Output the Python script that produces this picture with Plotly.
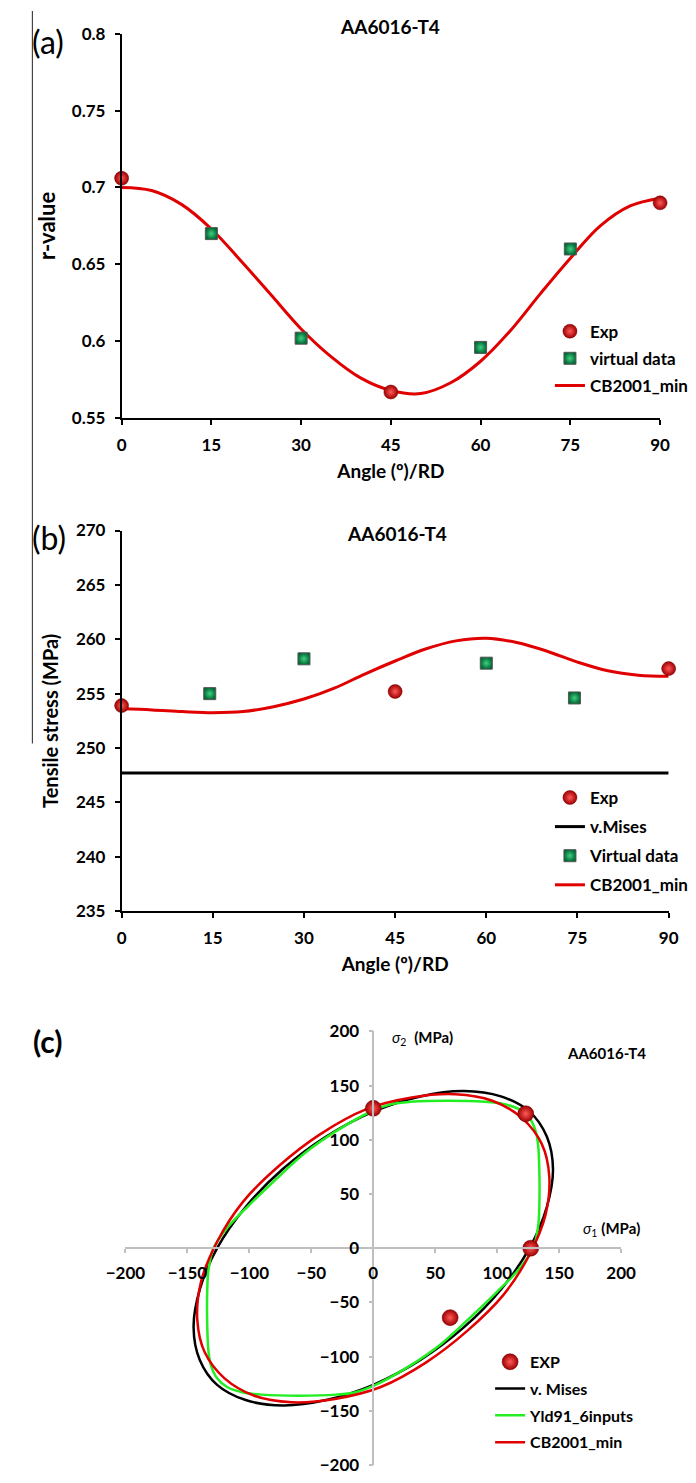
import plotly.graph_objects as go

W, H = 696, 1483
FONT = "Lato"

# ---------------- Panel (a): r-value ----------------
ang_exp_a = [0, 45, 90]
r_exp = [0.706, 0.567, 0.690]
ang_virt_a = [15, 30, 60, 75]
r_virt = [0.670, 0.602, 0.596, 0.660]
ang_curve = [0, 5, 10, 15, 20, 25, 30, 35, 40, 45, 50, 55, 60, 65, 70, 75, 80, 85, 90]
r_cb2001 = [0.700, 0.698, 0.689, 0.673, 0.652, 0.630, 0.608, 0.590, 0.576, 0.568,
            0.566, 0.573, 0.587, 0.607, 0.631, 0.654, 0.675, 0.688, 0.693]

# ---------------- Panel (b): tensile stress ----------------
ang_exp_b = [0, 45, 90]
s_exp = [253.9, 255.2, 257.3]
ang_virt_b = [14.5, 30, 60, 74.5]
s_virt = [255.0, 258.2, 257.8, 254.6]
s_cb2001 = [253.6, 253.5, 253.35, 253.25, 253.35, 253.8, 254.5, 255.5, 256.8, 258.0,
            259.1, 259.85, 260.1, 259.7, 258.9, 257.9, 257.1, 256.7, 256.6]
ang_mises_b = [0, 90]
s_mises = [247.7, 247.7]

# ---------------- Panel (c): yield loci (sigma1, sigma2 in MPa) ----------------
exp_s1 = [0, 123, 127, 62]
exp_s2 = [129, 124, 0, -64]
mises_s1 = [126, 103, 73, 38, 0, -38, -73, -103, -126, -140, -145, -140,
            -126, -103, -73, -38, 0, 38, 73, 103, 126, 140, 145, 140, 126]
mises_s2 = [126, 140, 145, 140, 126, 103, 73, 38, 0, -38, -73, -103,
            -126, -140, -145, -140, -126, -103, -73, -38, 0, 38, 73, 103, 126]
yld_s1 = [0, 15, 30, 60, 90, 105, 118, 126, 131, 133, 134, 134, 133, 129, 117, 100, 80, 55, 30,
          0, -15, -30, -60, -90, -105, -118, -126, -131, -133, -134, -134, -133, -129, -117, -100, -80, -55, -30, 0]
yld_s2 = [127, 133, 135, 136, 135, 133, 128, 120, 108, 95, 70, 40, 20, 0, -20, -40, -62, -88, -108,
          -127, -133, -135, -136, -135, -133, -128, -120, -108, -95, -70, -40, -20, 0, 20, 40, 62, 88, 108, 127]
cb_s1 = [120, 96, 66, 31, -6, -43, -76, -105, -126, -139, -142, -136,
         -120, -96, -66, -31, 6, 43, 76, 105, 126, 139, 142, 136, 120]
cb_s2 = [120, 136, 142, 139, 128, 105, 76, 43, 6, -31, -66, -96,
         -120, -136, -142, -139, -128, -105, -76, -43, -6, 31, 66, 96, 120]

ticks_angle = [0, 15, 30, 45, 60, 75, 90]
ticks_r = [0.55, 0.6, 0.65, 0.7, 0.75, 0.8]
ticks_r_text = ["0.55", "0.6", "0.65", "0.7", "0.75", "0.8"]
ticks_s = [235, 240, 245, 250, 255, 260, 265, 270]
ticks_c = [-200, -150, -100, -50, 0, 50, 100, 150, 200]


def px(x):
    return x / W


def py(y):
    return 1 - y / H


RED = "#e00000"
red_marker = dict(symbol="circle", size=14, color="#a00000",
                  gradient=dict(type="radial", color="#ff5a5a"),
                  line=dict(width=0.5, color="#700000"))
green_marker = dict(symbol="square", size=12, color="#006a35",
                    gradient=dict(type="radial", color="#3fd080"),
                    line=dict(width=1, color="#555555"))

fig = go.Figure()

# Panel (a)
fig.add_trace(go.Scatter(x=ang_curve, y=r_cb2001, mode="lines", line=dict(color=RED, width=3, shape="spline"),
                         name="CB2001_min", xaxis="x", yaxis="y", legend="legend", legendrank=3,
                         legendgroup="a3"))
fig.add_trace(go.Scatter(x=ang_exp_a, y=r_exp, mode="markers", marker=red_marker, name="Exp",
                         xaxis="x", yaxis="y", legend="legend", legendrank=1, cliponaxis=False,
                         legendgroup="a1"))
fig.add_trace(go.Scatter(x=ang_virt_a, y=r_virt, mode="markers", marker=green_marker, name="virtual data",
                         xaxis="x", yaxis="y", legend="legend", legendrank=2, cliponaxis=False,
                         legendgroup="a2"))

# Panel (b)
fig.add_trace(go.Scatter(x=ang_mises_b, y=s_mises, mode="lines", line=dict(color="black", width=3),
                         name="v.Mises", xaxis="x2", yaxis="y2", legend="legend2", legendrank=2,
                         legendgroup="b2"))
fig.add_trace(go.Scatter(x=ang_curve, y=s_cb2001, mode="lines", line=dict(color=RED, width=3, shape="spline"),
                         name="CB2001_min", xaxis="x2", yaxis="y2", legend="legend2", legendrank=4,
                         legendgroup="b4"))
fig.add_trace(go.Scatter(x=ang_exp_b, y=s_exp, mode="markers", marker=red_marker, name="Exp",
                         xaxis="x2", yaxis="y2", legend="legend2", legendrank=1, cliponaxis=False,
                         legendgroup="b1"))
fig.add_trace(go.Scatter(x=ang_virt_b, y=s_virt, mode="markers", marker=green_marker, name="Virtual data",
                         xaxis="x2", yaxis="y2", legend="legend2", legendrank=3, cliponaxis=False,
                         legendgroup="b3"))

# Panel (c)
fig.add_trace(go.Scatter(x=mises_s1, y=mises_s2, mode="lines",
                         line=dict(color="black", width=2.5, shape="spline", smoothing=1),
                         name="v. Mises", xaxis="x3", yaxis="y3", legend="legend3", legendrank=2,
                         legendgroup="c2"))
fig.add_trace(go.Scatter(x=yld_s1, y=yld_s2, mode="lines",
                         line=dict(color="#22ee22", width=2.5, shape="spline", smoothing=0.9),
                         name="Yld91_6inputs", xaxis="x3", yaxis="y3", legend="legend3", legendrank=3,
                         legendgroup="c3"))
fig.add_trace(go.Scatter(x=cb_s1, y=cb_s2, mode="lines",
                         line=dict(color=RED, width=2.5, shape="spline", smoothing=1),
                         name="CB2001_min", xaxis="x3", yaxis="y3", legend="legend3", legendrank=4,
                         legendgroup="c4"))
c_marker = dict(red_marker)
c_marker["size"] = 16
fig.add_trace(go.Scatter(x=exp_s1, y=exp_s2, mode="markers", marker=c_marker, name="EXP",
                         xaxis="x3", yaxis="y3", legend="legend3", legendrank=1, cliponaxis=False,
                         legendgroup="c1"))

tickfont = dict(family=FONT, size=17, color="black", weight="bold")
titlefont = dict(family=FONT, size=19, color="black", weight="bold")

common = dict(showgrid=False, zeroline=False, showline=True, linecolor="black", linewidth=1.5,
              ticks="outside", ticklen=5, tickwidth=1.5, tickcolor="black", tickfont=tickfont,
              ticklabelstandoff=6)

legend_common = dict(xanchor="left", yanchor="top", bgcolor="rgba(0,0,0,0)",
                     font=dict(family=FONT, size=17, color="black", weight="bold"))

fig.update_layout(
    width=W, height=H, margin=dict(l=0, r=0, t=0, b=0),
    paper_bgcolor="white", plot_bgcolor="white",
    xaxis=dict(domain=[px(107), px(674)], anchor="y", range=[0, 90], tickvals=ticks_angle,
               title=dict(text="Angle (º)/RD", font=titlefont, standoff=10), **common),
    yaxis=dict(domain=[py(413), py(23)], anchor="x", range=[0.55, 0.8], tickvals=ticks_r,
               ticktext=ticks_r_text,
               title=dict(text="r-value", font=dict(family=FONT, size=22, color="black", weight="bold"),
                          standoff=10), **common),
    xaxis2=dict(domain=[px(107), px(683)], anchor="y2", range=[0, 90], tickvals=ticks_angle,
                title=dict(text="Angle (º)/RD", font=titlefont, standoff=10), **common),
    yaxis2=dict(domain=[py(913), py(527)], anchor="x2", range=[235, 270], tickvals=ticks_s,
                title=dict(text="Tensile stress (MPa)",
                           font=dict(family=FONT, size=20, color="black", weight="bold"), standoff=12),
                **common),
    xaxis3=dict(domain=[px(111), px(633)], anchor="free", position=py(1255), range=[-200, 200],
                tickvals=ticks_c, showgrid=False, zeroline=False, showline=True, linecolor="#bfbfbf",
                linewidth=1.5, ticks="outside", ticklen=4, tickcolor="#bfbfbf", tickwidth=1.5,
                tickfont=tickfont, ticklabelstandoff=6),
    yaxis3=dict(domain=[py(1475), py(1035)], anchor="free", position=px(372), range=[-200, 200],
                tickvals=ticks_c, showgrid=False, zeroline=False, showline=True, linecolor="#bfbfbf",
                linewidth=1.5, ticks="outside", ticklen=4, tickcolor="#bfbfbf", tickwidth=1.5,
                tickfont=tickfont, ticklabelstandoff=6),
    legend=dict(x=px(558), y=py(307), tracegroupgap=2, **legend_common),
    legend2=dict(x=px(558), y=py(780), tracegroupgap=4, **legend_common),
    legend3=dict(x=px(495), y=py(1353), tracegroupgap=3,
                 xanchor="left", yanchor="top", bgcolor="rgba(0,0,0,0)",
                 font=dict(family=FONT, size=16, color="black", weight="bold")),
    showlegend=True,
)

ann = []
ann.append(dict(text="AA6016-T4", x=px(390), y=py(16), font=dict(family=FONT, size=19, color="black", weight="bold")))
ann.append(dict(text="AA6016-T4", x=px(397), y=py(530), font=dict(family=FONT, size=19, color="black", weight="bold")))
ann.append(dict(text="AA6016-T4", x=px(618), y=py(1057), font=dict(family=FONT, size=15, color="black", weight="bold")))
ann.append(dict(text="(a)", x=px(30), y=py(31), font=dict(family=FONT, size=32, color="black")))
ann.append(dict(text="(b)", x=px(31), y=py(534), font=dict(family=FONT, size=32, color="black")))
ann.append(dict(text="<b>(c)</b>", x=px(30), y=py(1045), font=dict(family=FONT, size=30, color="black")))
ann.append(dict(text="<i>σ</i><sub>1</sub> <b>(MPa)</b>", x=px(623), y=py(1236),
                font=dict(family=FONT, size=15, color="black")))
ann.append(dict(text="<i>σ</i><sub>2</sub>  <b>(MPa)</b>", x=px(424), y=py(1042),
                font=dict(family=FONT, size=15, color="black")))
for a in ann:
    a.update(xref="paper", yref="paper", showarrow=False, xanchor="center", yanchor="middle")
fig.update_layout(annotations=ann)

fig.add_shape(type="line", xref="paper", yref="paper", x0=px(13), x1=px(13), y0=1, y1=py(743),
              line=dict(color="#222222", width=1))

fig.write_html("out.html")
